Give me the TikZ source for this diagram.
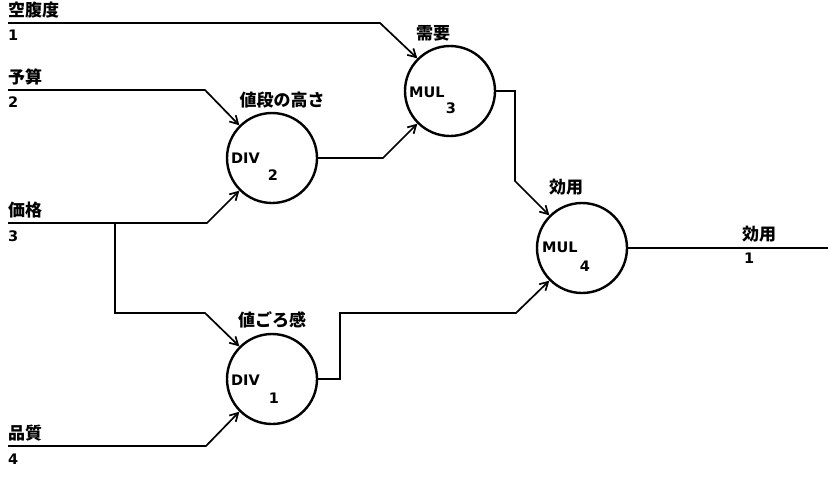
\documentclass[tikz,border=0pt]{standalone}
\usepackage{fontspec}
\setmainfont{Noto Sans CJK JP}
\newfontfamily\latinfont{DejaVu Sans}
\usetikzlibrary{arrows.meta}
\tikzset{
  opnode/.style={circle, draw, line width=2.4pt, minimum size=90pt, inner sep=0pt},
  wire/.style={line width=1.7pt},
  arr/.style={wire, -{Straight Barb[length=8pt,width=9pt,line width=1.7pt]}},
  lbl/.style={inner sep=0pt, font=\fontsize{17pt}{18pt}\selectfont\bfseries},
  num/.style={inner sep=0pt, font=\latinfont\fontsize{14.5pt}{16pt}\selectfont\bfseries},
  abovelbl/.style={lbl, anchor=south west},
  belowlbl/.style={num, anchor=north west},
}
\begin{document}
\begin{tikzpicture}[x=1pt,y=-1pt]
\useasboundingbox (0,0) rectangle (836,496);
% operator nodes
\node[opnode] (d2) at (272,158) {};
\node[opnode] (m3) at (450,91) {};
\node[opnode] (m4) at (582,248) {};
\node[opnode] (d1) at (272,379) {};
% inner texts
\node[num, anchor=west] (d2a) at (231,158) {DIV};
\node[num] (d2b) at (273,175) {2};
\node[num, anchor=west] (m3a) at (409,92) {MUL};
\node[num] (m3b) at (451,108) {3};
\node[num, anchor=west] (m4a) at (542,247) {MUL};
\node[num] (m4b) at (585,266) {4};
\node[num, anchor=west] (d1a) at (231,380) {DIV};
\node[num] (d1b) at (274,398) {1};
% node titles
\node[lbl] (t2) at (282,100) {値段の高さ};
\node[lbl] (t3) at (433,33) {需要};
\node[lbl] (t4) at (566,187) {効用};
\node[lbl] (t1) at (272,320) {値ごろ感};
% inputs
\coordinate (i1) at (8,23);
\coordinate (i2) at (8,90);
\coordinate (i3) at (8,223);
\coordinate (br) at (115,223);
\coordinate (i4) at (8,446);
\coordinate (o1) at (828,248);
\node[abovelbl] (l1) at (8,18) {空腹度};
\node[belowlbl] (n1) at (8,30) {1};
\node[abovelbl] (l2) at (8,85) {予算};
\node[belowlbl] (n2) at (8,97) {2};
\node[abovelbl] (l3) at (8,218) {価格};
\node[belowlbl] (n3) at (8,231) {3};
\node[abovelbl] (l4) at (8,441) {品質};
\node[belowlbl] (n4) at (8,454) {4};
\node[abovelbl] (lo) at (742,242) {効用};
\node[belowlbl] (no) at (744,253) {1};
% connectors
\draw[arr] (i1) -- (380,23) -- (m3.135);
\draw[arr] (i2) -- (205,90) -- (d2.135);
\draw[arr] (i3) -- (207,223) -- (d2.225);
\draw[arr] (br) -- (115,313) -- (205,313) -- (d1.135);
\draw[arr] (i4) -- (206,446) -- (d1.225);
\draw[arr] (d2.east) -- (383,158) -- (m3.225);
\draw[arr] (m3.east) -- (515,91) -- (515,181) -- (m4.135);
\draw[arr] (d1.east) -- (340,379) -- (340,313) -- (516,313) -- (m4.225);
\draw[wire] (m4.east) -- (o1);
\end{tikzpicture}
\end{document}
